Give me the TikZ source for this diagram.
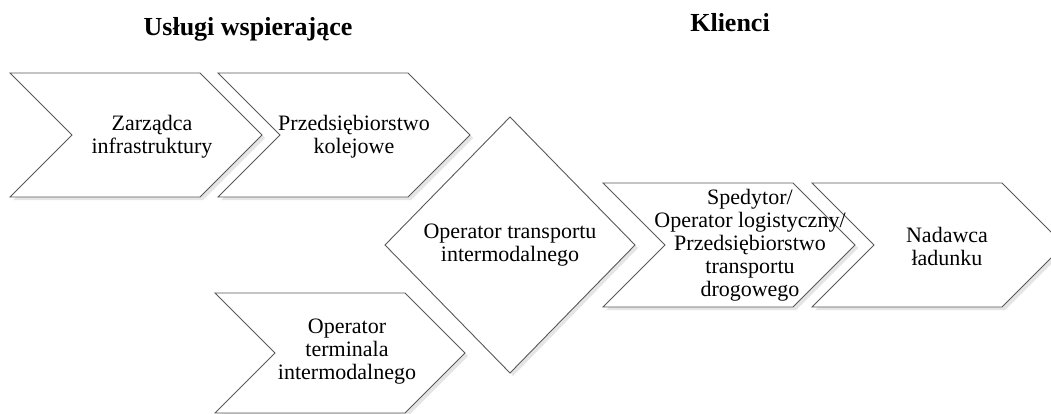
\documentclass[tikz,border=0pt]{standalone}
\usepackage{fontspec}
\setmainfont{Liberation Serif}
\begin{document}
\begin{tikzpicture}[x=1pt,y=-1pt,
  shapeline/.style={draw=black!65, line width=0.9pt, fill=white, line join=miter},
  shapeshade/.style={fill=black!10, draw=none},
  label/.style={align=center, inner sep=0pt, font=\fontsize{22}{23}\selectfont},
  heading/.style={anchor=base, inner sep=0pt, font=\fontsize{26}{30}\selectfont\bfseries}]
\useasboundingbox (0,0) rectangle (1051,414);
\fill[white] (0,0) rectangle (1051,414);
% chevron: left x, top y, body width, height (point depth = height/2)
\newcommand{\chevpath}[4]{(#1,#2) -- ++(#3,0) -- ++(#4/2,#4/2) -- ++(-#4/2,#4/2) -- ++(-#3,0) -- ++(#4/2,-#4/2) -- cycle}
\newcommand{\chevshape}[4]{%
  \fill[shapeshade,shift={(3,3)}] \chevpath{#1}{#2}{#3}{#4};
  \draw[shapeline] \chevpath{#1}{#2}{#3}{#4};}
% supporting services
\chevshape{10}{73}{190}{124}
\chevshape{218}{73}{190}{124}
\chevshape{215}{293}{190}{120}
% customers
\chevshape{603}{183}{190}{124}
\chevshape{812}{183}{190}{124}
% central operator
\fill[shapeshade,shift={(3,3)}] (510,117) -- (635,245) -- (510,373) -- (385,245) -- cycle;
\draw[shapeline] (510,117) -- (635,245) -- (510,373) -- (385,245) -- cycle;
% headings
\node[heading] (hsup) at (248,36) {Usługi wspierające};
\node[heading] (hcli) at (730,32) {Klienci};
% texts
\node[label] (zarz) at (152,137) {Zarządca\\infrastruktury};
\node[label] (kolej) at (354,137) {Przedsiębiorstwo\\kolejowe};
\node[label] (term) at (347,352) {Operator\\terminala\\intermodalnego};
\node[label] (oti) at (510,245) {Operator transportu\\intermodalnego};
\node[label] (sped) at (750,245) {Spedytor/\\Operator logistyczny/\\Przedsiębiorstwo\\transportu\\drogowego};
\node[label] (nad) at (947,246) {Nadawca\\ładunku};
\end{tikzpicture}
\end{document}
